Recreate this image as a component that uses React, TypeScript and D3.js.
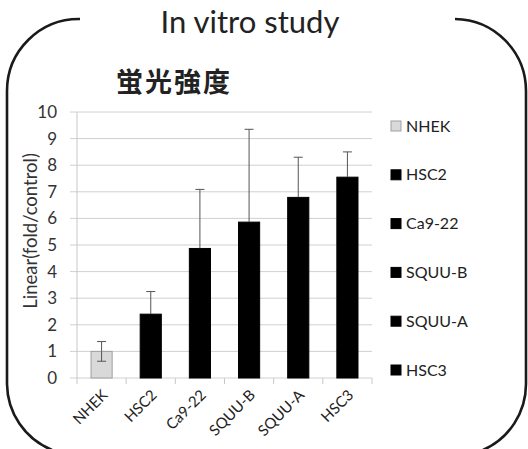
import React from "react";
import * as d3 from "d3";

const categories = ["NHEK", "HSC2", "Ca9-22", "SQUU-B", "SQUU-A", "HSC3"];
const values = [1.0, 2.4, 4.87, 5.86, 6.79, 7.55];
const errors = [0.37, 0.85, 2.22, 3.49, 1.51, 0.95];
const fills = ["#d9d9d9", "#000000", "#000000", "#000000", "#000000", "#000000"];
const yTicks = [0, 1, 2, 3, 4, 5, 6, 7, 8, 9, 10];
const title = "In vitro study";
const subtitle = "蛍光強度";
const yTitle = "Linear(fold/control)";

const W = 528;
const H = 449;
const plot = { left: 77, right: 372, top: 112, bottom: 378 };
const FONT = "Lato, 'Open Sans', sans-serif";

export default function App() {
  const x = d3.scaleBand<string>().domain(categories).range([plot.left, plot.right]).paddingInner(0.57).paddingOuter(0.285);
  const xb = d3.scaleBand<string>().domain(categories).range([plot.left, plot.right]);
  const y = d3.scaleLinear().domain([0, 10]).range([plot.bottom, plot.top]);

  const r = 72;
  const L = 7, R = 526, T = 19;
  const leftPath = `M 80 ${T} A ${r} ${r} 0 0 0 ${L} ${T + r} L ${L} 384 A ${r} ${r} 0 0 0 52 ${H + 1}`;
  const rightPath = `M 455 ${T} A ${r} ${r} 0 0 1 ${R} ${T + r} L ${R} 384 A ${r} ${r} 0 0 1 483 ${H + 1}`;

  const legendY = d3.scalePoint<string>().domain(categories).range([126, 370]);

  return (
    <svg width={W} height={H} style={{ position: "absolute", left: 0, top: 0, background: "#fff" }}>
      <rect width={W} height={H} fill="#fff" />
      <path d={leftPath} fill="none" stroke="#1a1a1a" strokeWidth={2.6} />
      <path d={rightPath} fill="none" stroke="#1a1a1a" strokeWidth={2.6} />
      <text x={250} y={33} textAnchor="middle" fontFamily={FONT} fontSize={31} fill="#222">{title}</text>
      <text x={174} y={92} textAnchor="middle" fontFamily="'Noto Sans CJK JP', sans-serif" fontWeight="bold" fontSize={27} letterSpacing={2} fill="#222">{subtitle}</text>

      {yTicks.map((t) => (
        <line key={t} x1={70} x2={plot.right} y1={y(t)} y2={y(t)} stroke="#d0d0d0" strokeWidth={1} />
      ))}
      <line x1={plot.left} x2={plot.left} y1={plot.top} y2={plot.bottom} stroke="#c8c8c8" />
      {categories.map((c) => (
        <line key={c} x1={xb(c)!} x2={xb(c)!} y1={plot.bottom} y2={plot.bottom + 6} stroke="#c8c8c8" />
      ))}
      <line x1={plot.right} x2={plot.right} y1={plot.bottom} y2={plot.bottom + 6} stroke="#c8c8c8" />

      {yTicks.map((t) => (
        <text key={t} x={57} y={y(t)} dy="0.35em" textAnchor="end" fontFamily={FONT} fontSize={17} fill="#333">{t}</text>
      ))}
      <text transform={`translate(37,${231}) rotate(-90)`} textAnchor="middle" fontFamily={FONT} fontSize={18.5} fill="#333">{yTitle}</text>

      {categories.map((c, i) => (
        <rect key={c} x={x(c)!} y={y(values[i])} width={x.bandwidth()} height={y(0) - y(values[i])}
          fill={fills[i]} stroke={i === 0 ? "#a0a0a0" : "#000"} strokeWidth={1} />
      ))}
      {categories.map((c, i) => {
        const cx = x(c)! + x.bandwidth() / 2;
        const mid = y(values[i]);
        const hi = y(values[i] + errors[i]);
        const lo = y(values[i] - errors[i]);
        const lowColor = i === 0 ? "#555" : "#000";
        return (
          <g key={c} strokeWidth={1}>
            <line x1={cx} x2={cx} y1={hi} y2={mid} stroke="#555" />
            <line x1={cx - 4.5} x2={cx + 4.5} y1={hi} y2={hi} stroke="#555" />
            <line x1={cx} x2={cx} y1={mid} y2={lo} stroke={lowColor} />
            <line x1={cx - 4.5} x2={cx + 4.5} y1={lo} y2={lo} stroke={lowColor} />
          </g>
        );
      })}

      {categories.map((c) => {
        const cx = x(c)! + x.bandwidth() / 2;
        return (
          <text key={c} transform={`translate(${cx + 7},${plot.bottom + 18}) rotate(-45)`} textAnchor="end"
            fontFamily={FONT} fontSize={15} fill="#222">{c}</text>
        );
      })}

      {categories.map((c, i) => (
        <g key={c} transform={`translate(391,${legendY(c)})`}>
          <rect x={0} y={-5} width={10} height={10} fill={fills[i]} stroke={i === 0 ? "#a0a0a0" : "#000"} />
          <text x={15} y={0} dy="0.35em" fontFamily={FONT} fontSize={16} fill="#222">{c}</text>
        </g>
      ))}
    </svg>
  );
}
